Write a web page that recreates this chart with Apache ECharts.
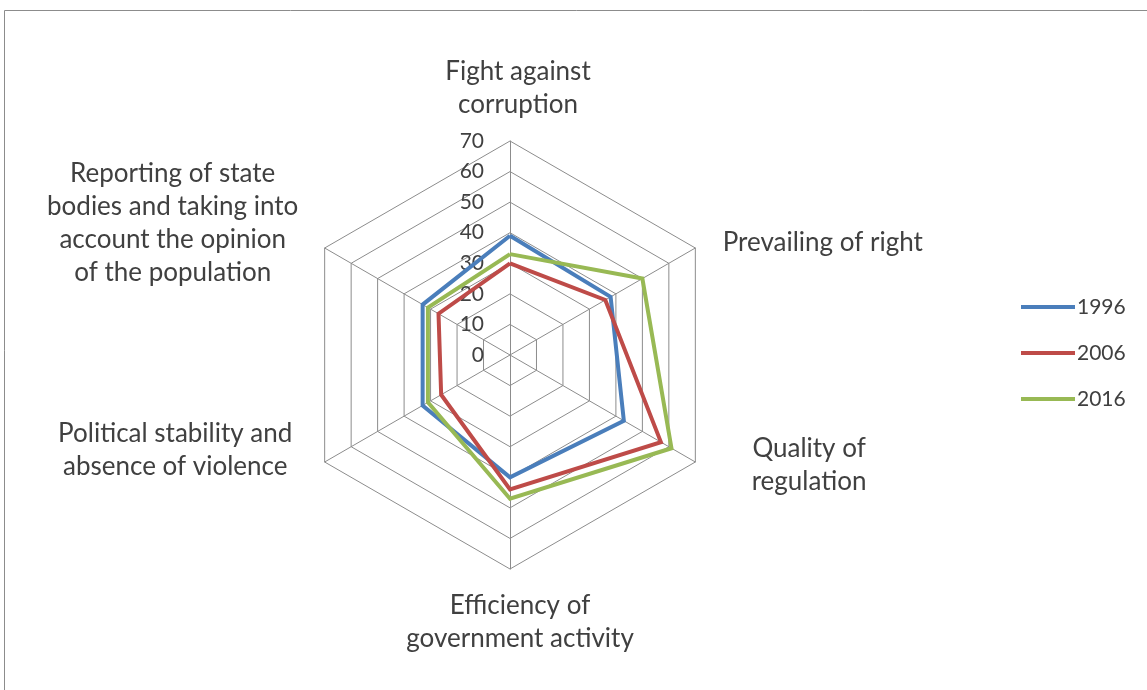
<!DOCTYPE html>
<html>
<head>
<meta charset="utf-8">
<script src="https://cdn.jsdelivr.net/npm/echarts@6/dist/echarts.min.js"></script>
<style>
html,body{margin:0;padding:0;background:#fff;}
#chart{width:1147px;height:690px;}
</style>
</head>
<body>
<div id="chart"></div>
<script>
// Indicators in ECharts order (counter-clockwise from top)
const indicators = [
  'Fight against\ncorruption',
  'Reporting of state\nbodies and taking into\naccount the opinion\nof the population',
  'Political stability and\nabsence of violence',
  'Efficiency of\ngovernment activity',
  'Quality of\nregulation',
  'Prevailing of right'
];
const years = ['1996', '2006', '2016'];
const values1996 = [39, 33, 33, 40, 43, 38];
const values2006 = [30, 27, 26, 44, 57, 36];
const values2016 = [33, 31, 31, 47, 61, 50];
const tickLabels = [0, 10, 20, 30, 40, 50, 60, 70];
const colors = ['#4A7EBB', '#BE4B48', '#98B954'];

const maxVal = tickLabels[tickLabels.length - 1];
const series = [values1996, values2006, values2016];
const center = [510, 355];
const radius = 214;
const textColor = '#404040';
const font = 'Lato, "Open Sans", sans-serif';
const nameSize = 26;
const lineH = 33;

// per-label fine placement: [padLeft, padRight, spacerTop, spacerBottom]
const nameAdjust = [
  [16, 0, 0, 0],
  [0, 9, 0, 30],
  [0, 15, 0, 44],
  [20, 0, 0, 0],
  [39, 0, 0, 14],
  [10, 0, 10, 0]
];
const rich = {};
nameAdjust.forEach((a, i) => {
  rich['t' + i] = {align: 'center', fontFamily: font, fontSize: nameSize, color: textColor,
    lineHeight: lineH, padding: [0, a[1], 0, a[0]]};
  rich['st' + i] = {fontSize: 1, lineHeight: Math.max(a[2], 1)};
  rich['sb' + i] = {fontSize: 1, lineHeight: Math.max(a[3], 1)};
});

const chart = echarts.init(document.getElementById('chart'));
chart.setOption({
  color: colors,
  graphic: [{
    type: 'rect', silent: true,
    shape: {x: 4.5, y: 10.5, width: 1200, height: 800},
    style: {fill: 'none', stroke: '#8c8c8c', lineWidth: 1}
  }],
  legend: {
    orient: 'vertical',
    left: 1021,
    top: 295,
    padding: 0,
    itemWidth: 54,
    itemHeight: 4,
    itemGap: 22,
    icon: 'rect',
    data: years,
    textStyle: {fontFamily: font, fontSize: 21, color: textColor, lineHeight: 24, padding: [0, 0, 0, -3]}
  },
  radar: {
    center: center,
    radius: radius,
    startAngle: 90,
    shape: 'polygon',
    splitNumber: 7,
    indicator: indicators.map(n => ({name: n, min: 0, max: maxVal})),
    nameGap: 20,
    axisName: {
      color: textColor,
      fontFamily: font,
      fontSize: nameSize,
      formatter: function (name) {
        const i = indicators.indexOf(name);
        const a = nameAdjust[i];
        let lines = name.split('\n').map(l => '{t' + i + '|' + l + '}');
        if (a[2] > 0) lines.unshift('{st' + i + '| }');
        if (a[3] > 0) lines.push('{sb' + i + '| }');
        return lines.join('\n');
      },
      rich: rich
    },
    axisLine: {lineStyle: {color: '#8c8c8c', width: 1}},
    splitLine: {lineStyle: {color: '#8c8c8c', width: 1}},
    splitArea: {show: false},
    axisTick: {show: false},
    axisLabel: {show: false}
  },
  polar: {center: center, radius: radius},
  angleAxis: {startAngle: 90, show: false, min: 0, max: 360},
  radiusAxis: {
    min: 0, max: maxVal, interval: 10,
    axisLine: {show: false},
    axisTick: {show: false},
    splitLine: {show: false},
    axisLabel: {show: true, margin: 26, fontFamily: font, fontSize: 21, color: textColor, padding: [8, 0, 0, 0]}
  },
  series: [{
    type: 'radar',
    symbol: 'none',
    lineStyle: {width: 4, join: 'miter'},
    data: years.map((y, i) => ({
      name: y,
      value: series[i],
      lineStyle: {color: colors[i], width: 4, join: 'miter'},
      itemStyle: {color: colors[i]}
    }))
  }]
});
</script>
</body>
</html>
